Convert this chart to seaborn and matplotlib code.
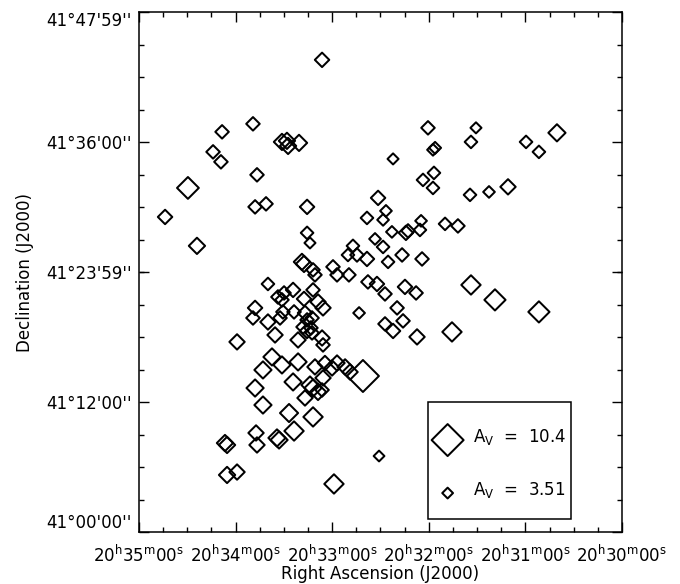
import numpy as np
import pandas as pd
import matplotlib
matplotlib.use("Agg")
import matplotlib.pyplot as plt
from matplotlib.patches import Rectangle
from matplotlib.ticker import FixedLocator, MultipleLocator
import seaborn as sns

# Source positions: RA in seconds of time past 20h30m00s, Dec in arcmin past +41d00m,
# and visual extinction A_V, which sets the marker size.
ra_sec = [186.3, 229.2, 248.4, 211.2, 208.1, 207.4, 200.6, 254.0, 249.1, 226.7,
          269.6, 227.9, 221.1, 195.6, 283.8, 264.0, 195.6, 193.8, 120.5, 90.7,
          93.8, 59.6, 51.6, 40.4, 142.2, 116.1, 117.4, 116.8, 123.6, 117.4,
          94.4, 82.6, 70.8, 151.5, 146.6, 158.4, 148.4, 124.8, 109.9, 101.9,
          142.9, 134.2, 132.9, 125.5, 153.4, 167.1, 170.2, 164.6, 158.4, 148.4,
          136.6, 124.2, 145.3, 179.5, 177.0, 169.6, 157.8, 152.2, 147.2, 134.8,
          127.9, 93.8, 78.9, 51.6, 163.3, 139.7, 147.2, 136.0, 142.2, 127.3,
          105.6, 160.9, 172.0, 168.9, 177.0, 180.1, 150.9, 178.9, 198.8, 197.5,
          191.9, 190.7, 219.9, 213.7, 209.9, 211.2, 204.3, 197.5, 191.9, 188.8,
          185.7, 227.9, 229.2, 219.9, 212.4, 210.6, 203.7, 196.9, 195.6, 192.5,
          198.1, 195.6, 193.2, 239.1, 215.5, 201.2, 192.5, 186.3, 185.7, 217.4,
          211.2, 223.0, 201.2, 190.7, 184.5, 227.9, 204.3, 191.9, 188.8, 193.8,
          223.0, 206.8, 191.9, 196.9, 185.7, 186.3, 227.3, 226.7, 246.6, 245.3,
          214.3, 213.0, 203.7, 245.3, 239.1]
dec_arcmin = [43.61, 37.70, 36.96, 36.03, 36.13, 35.66, 35.94, 35.11, 34.19, 32.99,
              31.78, 30.03, 30.31, 30.03, 29.10, 26.43, 27.63, 26.70, 37.33, 37.33,
              36.03, 36.03, 35.11, 36.87, 34.46, 35.48, 35.30, 33.17, 32.52, 31.78,
              31.14, 31.41, 31.88, 30.86, 29.66, 29.01, 28.83, 28.74, 28.46, 28.27,
              27.72, 27.63, 27.81, 27.90, 27.07, 26.43, 25.59, 25.59, 25.22, 26.33,
              25.59, 25.22, 24.95, 24.49, 23.75, 23.75, 23.10, 22.91, 21.99, 22.64,
              22.08, 22.82, 21.44, 20.33, 20.23, 20.70, 19.22, 19.50, 18.57, 18.02,
              18.48, 14.41, 15.25, 14.78, 15.61, 15.15, 7.02, 4.44, 24.95, 24.76,
              24.21, 23.75, 22.91, 21.71, 22.08, 21.44, 22.36, 21.53, 22.36, 21.25,
              20.70, 20.70, 19.77, 19.40, 19.77, 20.33, 20.33, 20.23, 19.59, 19.77,
              18.94, 18.57, 18.85, 17.56, 18.20, 17.74, 18.39, 17.92, 17.28, 16.17,
              15.43, 14.97, 15.71, 15.25, 15.61, 13.30, 13.86, 13.30, 12.94, 13.58,
              11.73, 10.99, 10.63, 12.38, 14.23, 13.12, 9.15, 8.04, 8.22, 8.04,
              8.69, 8.50, 9.33, 5.27, 5.54]
av = [4.7, 4.4, 4.4, 5.3, 5.3, 5.3, 5.3, 4.4, 4.4, 4.4,
      7.1, 4.4, 4.4, 4.7, 4.7, 5.3, 4.1, 3.6, 4.4, 3.6,
      4.1, 4.1, 4.1, 5.6, 3.6, 3.9, 3.8, 4.1, 4.1, 4.1,
      4.1, 3.8, 5.0, 4.7, 3.8, 4.1, 3.8, 3.8, 4.1, 4.4,
      3.8, 4.7, 4.4, 4.1, 3.8, 4.1, 4.1, 4.4, 4.7, 4.1,
      4.4, 4.4, 4.1, 4.4, 4.4, 4.4, 4.4, 4.7, 4.4, 4.7,
      4.4, 6.3, 6.9, 6.9, 3.8, 4.4, 4.4, 4.4, 4.7, 5.0,
      6.3, 10.4, 5.0, 5.0, 5.0, 5.0, 3.51, 6.3, 5.3, 5.3,
      4.4, 4.4, 4.1, 4.4, 4.4, 4.4, 4.7, 4.7, 4.4, 5.0,
      5.0, 4.7, 4.4, 5.0, 4.4, 4.4, 4.4, 4.7, 4.4, 4.4,
      4.4, 4.7, 4.4, 5.0, 5.0, 5.0, 4.4, 5.0, 4.4, 5.6,
      5.6, 5.6, 5.6, 5.0, 4.7, 5.6, 5.6, 5.6, 5.3, 5.6,
      5.6, 5.9, 6.3, 5.0, 5.0, 4.4, 5.0, 5.0, 5.3, 5.3,
      5.6, 5.6, 6.3, 5.3, 5.0]

# Axis ticks
ra_major = [300, 240, 180, 120, 60, 0]
ra_labels = [r"20$^{\rm h}$35$^{\rm m}$00$^{\rm s}$", r"20$^{\rm h}$34$^{\rm m}$00$^{\rm s}$",
             r"20$^{\rm h}$33$^{\rm m}$00$^{\rm s}$", r"20$^{\rm h}$32$^{\rm m}$00$^{\rm s}$",
             r"20$^{\rm h}$31$^{\rm m}$00$^{\rm s}$", r"20$^{\rm h}$30$^{\rm m}$00$^{\rm s}$"]
dec_major = [0.0, 12.0, 23.9833, 36.0, 47.9833]
dec_labels = ["41°00'00''", "41°12'00''", "41°23'59''", "41°36'00''", "41°47'59''"]

legend_av = [10.4, 3.51]
legend_text = [r"A$_{\rm V}$  =  10.4", r"A$_{\rm V}$  =  3.51"]

SIZE_K = 2.45  # marker area (pt^2) per A_V^2, so diamond width scales with A_V

sns.set_theme(style="white")
plt.rcParams["font.family"] = ["DejaVu Sans"]
plt.rcParams["mathtext.fontset"] = "dejavusans"

df = pd.DataFrame({"ra": ra_sec, "dec": dec_arcmin, "av": av})
size_map = {v: SIZE_K * v ** 2 for v in sorted(set(av))}

fig = plt.figure(figsize=(6.8, 5.84), dpi=100)
ax = fig.add_axes([0.2044, 0.0890, 0.7103, 0.8896])

sns.scatterplot(data=df, x="ra", y="dec", size="av", sizes=size_map,
                marker="D", facecolor="none", edgecolor="black", linewidth=1.45,
                legend=False, ax=ax)

ax.set_xlim(300, 0)
ax.set_ylim(0, 47.9833)

ax.xaxis.set_major_locator(FixedLocator(ra_major))
ax.set_xticklabels(ra_labels)
ax.xaxis.set_minor_locator(MultipleLocator(15))
ax.yaxis.set_major_locator(FixedLocator(dec_major))
ax.set_yticklabels(dec_labels)
ax.yaxis.set_minor_locator(FixedLocator(np.arange(0, 48.1, 3.0)))

ax.tick_params(which="both", direction="in", top=True, right=True,
               bottom=True, left=True,
               color="black", width=1.0, labelsize=12, labelcolor="black")
ax.tick_params(which="major", length=7.2)
ax.tick_params(which="minor", length=3.6)
ax.tick_params(axis="x", which="major", pad=9)
ax.tick_params(axis="y", which="major", pad=5)

ylabs = ax.get_yticklabels()
ylabs[0].set_va("bottom")
ylabs[-1].set_va("top")

for s in ax.spines.values():
    s.set_visible(True)
    s.set_color("black")
    s.set_linewidth(1.1)

ax.set_xlabel("Right Ascension (J2000)", fontsize=12, color="black")
ax.set_ylabel("Declination (J2000)", fontsize=12, color="black")
ax.xaxis.set_label_coords(0.5, -0.064)
ax.yaxis.set_label_coords(-0.218, 0.5)

# Size key
ax.add_patch(Rectangle((0.598, 0.025), 0.296, 0.225, transform=ax.transAxes,
                       fill=False, edgecolor="black", linewidth=1.1, zorder=3))
key_y = [0.177, 0.075]
ax.scatter([0.639, 0.639], key_y, s=[SIZE_K * v ** 2 for v in legend_av],
           marker="D", facecolor="none", edgecolor="black", linewidth=1.45,
           transform=ax.transAxes, zorder=4, clip_on=False)
for ty, txt in zip(key_y, legend_text):
    ax.text(0.691, ty + 0.006, txt, transform=ax.transAxes, fontsize=12,
            va="center", ha="left", color="black")

fig.savefig("out.png", dpi=100, facecolor="white")
